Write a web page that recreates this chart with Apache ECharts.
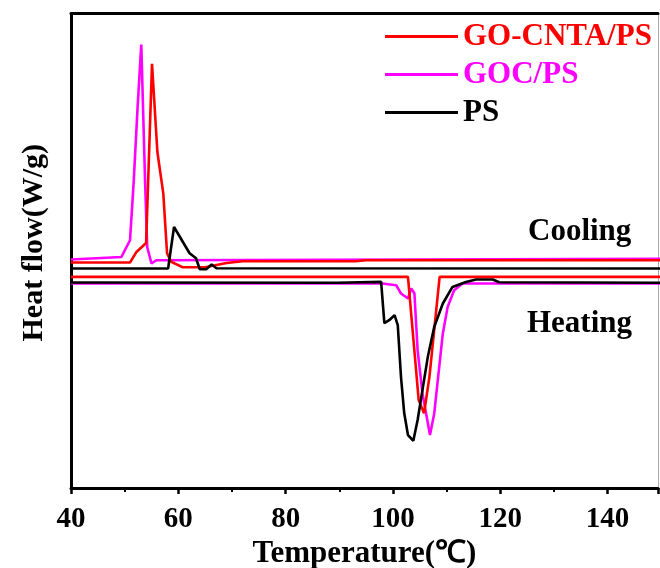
<!DOCTYPE html>
<html>
<head>
<meta charset="utf-8">
<title>DSC heat flow</title>
<script src="https://cdn.jsdelivr.net/npm/echarts@6/dist/echarts.min.js"></script>
<style>
  html, body { margin: 0; padding: 0; background: #fff; }
  #chart { width: 660px; height: 568px; }
</style>
</head>
<body>
<div id="chart"></div>
<script>
// temperatures (°C) and heat flow (arbitrary units)
const redCoolT = [40, 51.0, 52.2, 54.0, 55.1, 56.1, 57.2, 57.9, 58.7, 60.8, 65.0, 69.0, 72.0, 93.0, 95.0, 150];
const redCoolV = [225.7, 225.7, 236.3, 245.3, 424.7, 336.3, 295, 235, 226.3, 221, 221, 225.3, 227, 227, 228, 228];

const gocCoolT = [40, 49.4, 51.0, 51.7, 52.4, 53.1, 53.8, 54.2, 55.0, 55.9, 150];
const gocCoolV = [228.7, 231.3, 248, 308, 380, 444, 308, 241.3, 224.7, 228, 229.5];

const psCoolT = [40, 58.1, 59.2, 62.1, 63.3, 64.0, 65.2, 66.2, 67.1, 150];
const psCoolV = [219.7, 219.7, 261.3, 235, 230, 219, 219, 223.7, 220, 219.7];

const redHeatT = [40, 102.8, 104.8, 105.8, 106.8, 108.7, 150];
const redHeatV = [211.3, 211.3, 88, 74.7, 111.3, 211.3, 211.3];

const gocHeatT = [40, 98.0, 100.6, 101.5, 102.8, 103.4, 104.0, 104.6, 105.5, 106.5, 106.9, 107.7, 108.3, 109.3, 110.2, 111.4, 113.0, 150];
const gocHeatV = [204.7, 204.7, 203, 194.7, 189.7, 199.7, 195, 138, 94.7, 65, 53, 74.7, 105, 154.7, 181.3, 198, 204.7, 204.7];

const psHeatT = [40, 89.7, 97.8, 98.4, 99.3, 100.3, 100.9, 101.5, 102.1, 102.8, 103.8, 104.6, 105.5, 106.5, 107.7, 109.3, 111.1, 113.6, 115.5, 118.6, 119.8, 150];
const psHeatV = [205.7, 205.5, 206.3, 165, 168, 173, 163, 111.3, 75, 53, 47.3, 68, 98, 131.3, 161.3, 184.7, 201.3, 206.3, 208.7, 208.7, 206, 205.5];

const names = ["GO-CNTA/PS", "GOC/PS", "PS"];
const colors = ["#ff0000", "#ff00ff", "#000000"];

const pairs = (t, v) => t.map((x, i) => [x, v[i]]);

const font = "'Liberation Serif', 'Times New Roman', serif";

const curve = (idx, data, z) => ({
  name: names[idx],
  type: "line",
  data: data,
  symbol: "none",
  z: z,
  lineStyle: { color: colors[idx], width: 2.6 },
  itemStyle: { color: colors[idx] },
});

const chart = echarts.init(document.getElementById("chart"));

const option = {
  animation: false,
  grid: { left: 71, right: 2, top: 13.5, bottom: 80, outerBoundsMode: "none" },
  legend: {
    orient: "vertical",
    left: 380,
    top: 16,
    itemWidth: 73,
    itemHeight: 3,
    itemGap: 7,
    icon: "rect",
    textStyle: { fontFamily: font, fontWeight: "bold", fontSize: 31 },
    data: names.map((n, i) => ({ name: n, textStyle: { color: colors[i] } })),
  },
  xAxis: [
    {
      type: "value",
      min: 40,
      max: 149.4,
      interval: 20,
      name: "Temperature(℃)",
      nameLocation: "middle",
      nameGap: 47,
      nameTextStyle: { fontFamily: font, fontWeight: "bold", fontSize: 31, color: "#000" },
      axisLine: { onZero: false, lineStyle: { color: "#000", width: 3 } },
      axisTick: { length: 6, lineStyle: { color: "#000", width: 2.5 } },
      minorTick: { show: true, splitNumber: 2, length: 4, lineStyle: { color: "#000", width: 2 } },
      axisLabel: { fontFamily: font, fontWeight: "bold", fontSize: 29, color: "#000", margin: 17 },
      splitLine: { show: false },
    },
    {
      type: "value",
      position: "top",
      min: 40,
      max: 149.4,
      axisLine: { show: true, onZero: false, lineStyle: { color: "#000", width: 3 } },
      axisTick: { show: false },
      axisLabel: { show: false },
      splitLine: { show: false },
    },
  ],
  yAxis: [
    {
      type: "value",
      min: 0,
      max: 475,
      name: "Heat flow(W/g)",
      nameLocation: "middle",
      nameGap: 22,
      nameTextStyle: { fontFamily: font, fontWeight: "bold", fontSize: 30, color: "#000", padding: [0, 0, 0, 16] },
      axisLine: { show: true, onZero: false, lineStyle: { color: "#000", width: 3 } },
      axisTick: { show: false },
      axisLabel: { show: false },
      splitLine: { show: false },
    },
    {
      type: "value",
      position: "right",
      min: 0,
      max: 475,
      axisLine: { show: true, onZero: false, lineStyle: { color: "#aaaaaa", width: 1 } },
      axisTick: { show: false },
      axisLabel: { show: false },
      splitLine: { show: false },
    },
  ],
  graphic: [
    {
      type: "text",
      left: 528,
      top: 216,
      style: { text: "Cooling", font: "bold 31px " + font, fill: "#000" },
    },
    {
      type: "text",
      left: 527,
      top: 308,
      style: { text: "Heating", font: "bold 31px " + font, fill: "#000" },
    },
  ],
  series: [
    curve(1, pairs(gocCoolT, gocCoolV), 2),
    curve(1, pairs(gocHeatT, gocHeatV), 2),
    curve(0, pairs(redCoolT, redCoolV), 3),
    curve(0, pairs(redHeatT, redHeatV), 3),
    curve(2, pairs(psCoolT, psCoolV), 4),
    curve(2, pairs(psHeatT, psHeatV), 4),
  ],
};

chart.setOption(option);
</script>
</body>
</html>
